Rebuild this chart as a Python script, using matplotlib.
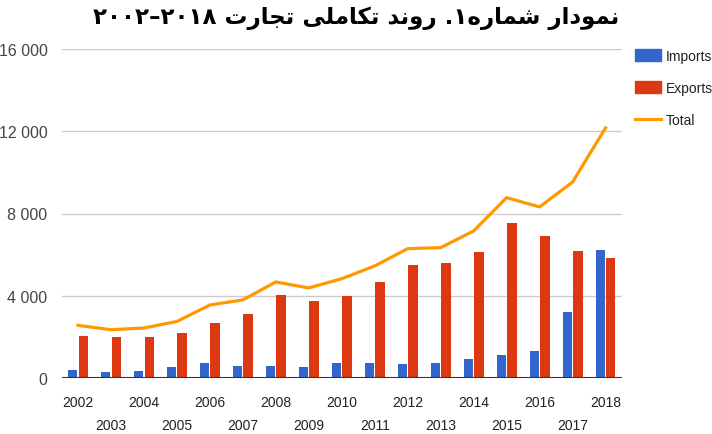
import re
import matplotlib
matplotlib.use("Agg")
import matplotlib.pyplot as plt
from matplotlib.patches import Patch
from matplotlib.lines import Line2D

# data
years = list(range(2002, 2019))
imports = [400, 270, 350, 530, 730, 600, 600, 530, 745, 745, 660, 745, 925, 1120, 1310, 3210, 6240]
exports = [2040, 1975, 1975, 2190, 2690, 3095, 4020, 3750, 4000, 4650, 5510, 5575, 6110, 7555, 6890, 6180, 5840]
total = [2560, 2350, 2430, 2750, 3550, 3800, 4670, 4380, 4830, 5450, 6290, 6340, 7150, 8770, 8320, 9530, 12160]
y_ticks = [0, 4000, 8000, 12000, 16000]
series_names = ["Imports", "Exports", "Total"]
title = "نمودار شماره۱. روند تکاملی تجارت ۲۰۱۸–۲۰۰۲"

# matplotlib has no arabic shaping, so map letters to presentation forms
FORMS = {
    'ا': ('\uFE8D', '\uFE8E', None, None),
    'ت': ('\uFE95', '\uFE96', '\uFE97', '\uFE98'),
    'ج': ('\uFE9D', '\uFE9E', '\uFE9F', '\uFEA0'),
    'د': ('\uFEA9', '\uFEAA', None, None),
    'ر': ('\uFEAD', '\uFEAE', None, None),
    'ش': ('\uFEB5', '\uFEB6', '\uFEB7', '\uFEB8'),
    'ک': ('\uFB8E', '\uFB8F', '\uFB90', '\uFB91'),
    'ل': ('\uFEDD', '\uFEDE', '\uFEDF', '\uFEE0'),
    'م': ('\uFEE1', '\uFEE2', '\uFEE3', '\uFEE4'),
    'ن': ('\uFEE5', '\uFEE6', '\uFEE7', '\uFEE8'),
    'ه': ('\uFEE9', '\uFEEA', '\uFEEB', '\uFEEC'),
    'و': ('\uFEED', '\uFEEE', None, None),
    'ی': ('\uFBFC', '\uFBFD', '\uFBFE', '\uFBFF'),
}


def shape(text):
    out = []
    for i, ch in enumerate(text):
        if ch not in FORMS:
            out.append(ch)
            continue
        f = FORMS[ch]
        prev = text[i - 1] if i > 0 else None
        nxt = text[i + 1] if i + 1 < len(text) else None
        join_prev = prev in FORMS and FORMS[prev][2] is not None
        join_next = nxt in FORMS and f[2] is not None
        if join_prev and join_next:
            out.append(f[3])
        elif join_prev:
            out.append(f[1])
        elif join_next:
            out.append(f[2])
        else:
            out.append(f[0])
    # right-to-left: reverse, but keep digit runs in order
    tokens = re.findall(r'[۰-۹]+|[^۰-۹]', ''.join(out))
    return ''.join(reversed(tokens))


plt.rcParams['font.family'] = ['Liberation Sans', 'DejaVu Sans']

fig = plt.figure(figsize=(7.12, 4.35), dpi=100)
ax = fig.add_axes([61.5 / 712, 56 / 435, 560.5 / 712, 329 / 435])

x = list(range(len(years)))
w = 0.285
ax.bar([i - 0.16 for i in x], imports, width=w, color='#3366CC', zorder=3)
ax.bar([i + 0.16 for i in x], exports, width=w, color='#DC3912', zorder=3)
ax.plot(x, total, color='#FF9900', linewidth=2.3, zorder=4, solid_joinstyle='round')

ax.set_xlim(-0.5, len(years) - 0.5)
ax.set_ylim(0, 16000)
ax.set_yticks(y_ticks)
ax.set_yticklabels([f"{v:,}".replace(",", " ") for v in y_ticks])
for v in y_ticks[1:]:
    ax.axhline(v, color='#CCCCCC', linewidth=1, zorder=1)
ax.axhline(0, color='#333333', linewidth=1.5, zorder=5)

ax.set_xticks([i for i in x if years[i] % 2 == 0])
ax.set_xticklabels([str(y) for y in years if y % 2 == 0])
ax.set_xticks([i for i in x if years[i] % 2 == 1], minor=True)
ax.set_xticklabels([str(y) for y in years if y % 2 == 1], minor=True)

ax.tick_params(axis='x', which='major', length=0, pad=12.5, labelsize=10, labelcolor='#222222')
ax.tick_params(axis='x', which='minor', length=0, pad=29, labelsize=10, labelcolor='#222222')
ax.tick_params(axis='y', length=0, pad=10, labelsize=11.5, labelcolor='#444444')
for s in ax.spines.values():
    s.set_visible(False)

handles = [Patch(color='#3366CC'), Patch(color='#DC3912'),
           Line2D([0], [0], color='#FF9900', linewidth=2.3)]
fig.legend(handles, series_names, loc='upper left', bbox_to_anchor=(635 / 712, 1 - 50 / 435),
           frameon=False, fontsize=10, labelspacing=1.3, handlelength=1.9,
           handleheight=0.95, handletextpad=0.3, borderaxespad=0, borderpad=0,
           labelcolor='#222222')

fig.text(0.5, 1 - 18 / 435, shape(title), ha='center', va='center',
         fontsize=16.5, fontweight='bold', family=['DejaVu Sans'])

fig.savefig("out.png", dpi=100)
